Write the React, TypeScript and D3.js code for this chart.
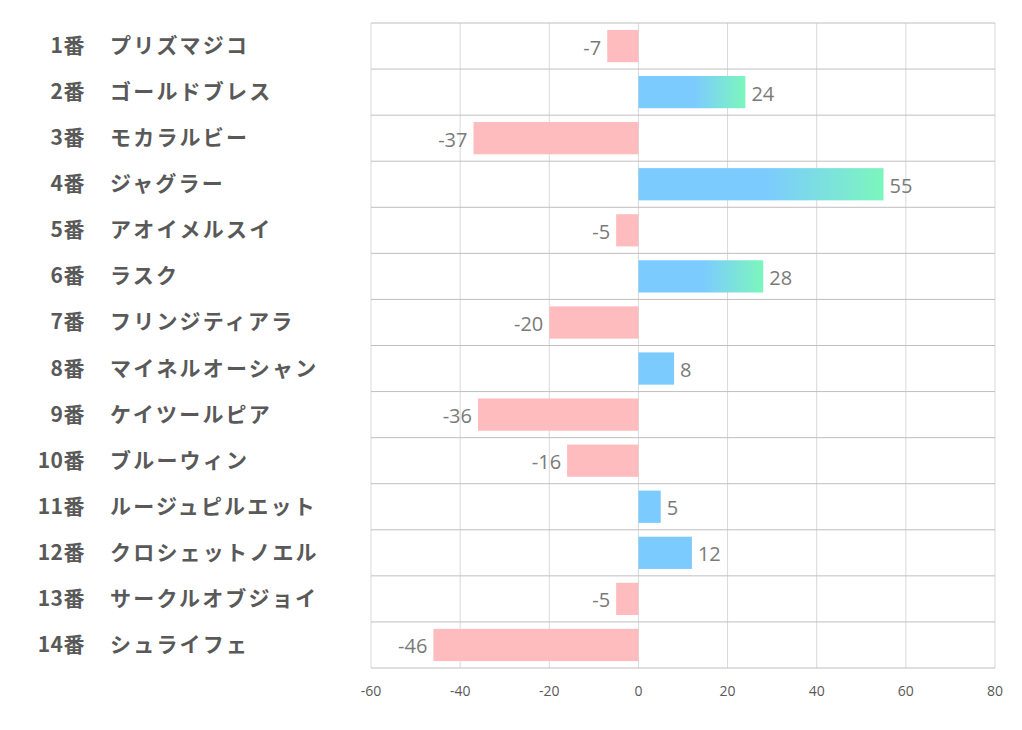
import React from "react";
import * as d3 from "d3";

const numbers = ["1番","2番","3番","4番","5番","6番","7番","8番","9番","10番","11番","12番","13番","14番"];
const names = ["プリズマジコ","ゴールドブレス","モカラルビー","ジャグラー","アオイメルスイ","ラスク","フリンジティアラ","マイネルオーシャン","ケイツールピア","ブルーウィン","ルージュピルエット","クロシェットノエル","サークルオブジョイ","シュライフェ"];
const values = [-7, 24, -37, 55, -5, 28, -20, 8, -36, -16, 5, 12, -5, -46];
const ticks = [-60, -40, -20, 0, 20, 40, 60, 80];

export default function App() {
  const W = 1022, H = 730;
  const left = 371, right = 995, top = 23, bottom = 668;
  const x = d3.scaleLinear().domain([-60, 80]).range([left, right]);
  const y = d3.scaleBand<number>().domain(d3.range(values.length)).range([top, bottom]).paddingInner(0.3).paddingOuter(0.15);
  const step = (bottom - top) / values.length;
  const x0 = x(0);
  return (
    <svg width={W} height={H} style={{ position: "absolute", left: 0, top: 0, background: "#fff" }}>
      <defs>
        <linearGradient id="grad" x1="0" x2="1" y1="0" y2="0">
          <stop offset="0" stopColor="#7ccbff" />
          <stop offset="0.52" stopColor="#7ccbff" />
          <stop offset="1" stopColor="#7cf6bd" />
        </linearGradient>
      </defs>
      {ticks.map((t) => (
        <line key={"v" + t} x1={x(t)} x2={x(t)} y1={top} y2={bottom} stroke="#d9d9d9" strokeWidth={1} />
      ))}
      {d3.range(values.length + 1).map((i) => (
        <line key={"h" + i} x1={left} x2={right} y1={top + i * step} y2={top + i * step} stroke="#bfbfbf" strokeWidth={1} />
      ))}
      {values.map((v, i) => {
        const bx = Math.min(x(v), x0);
        const bw = Math.abs(x(v) - x0);
        const fill = v < 0 ? "#ffbcbf" : v >= 20 ? "url(#grad)" : "#7ccbff";
        return <rect key={"b" + i} x={bx} y={y(i)!} width={bw} height={y.bandwidth()} fill={fill} />;
      })}
      {values.map((v, i) => (
        <text key={"l" + i} x={v < 0 ? x(v) - 6 : x(v) + 6} y={y(i)! + y.bandwidth() / 2 + 1}
          textAnchor={v < 0 ? "end" : "start"} dominantBaseline="central"
          fontFamily="'Open Sans', 'Noto Sans', sans-serif" fontSize={20} fill="#7a7a7a">{v}</text>
      ))}
      {values.map((_, i) => (
        <g key={"n" + i} fontFamily="'Noto Sans CJK JP', sans-serif" fontWeight="bold" fontSize={21} fill="#595959">
          <text x={85} y={top + step * (i + 0.5) - 2} textAnchor="end" dominantBaseline="central" letterSpacing={0.5}>{numbers[i]}</text>
          <text x={110} y={top + step * (i + 0.5) - 2} textAnchor="start" dominantBaseline="central" letterSpacing={2.2}>{names[i]}</text>
        </g>
      ))}
      {ticks.map((t) => (
        <text key={"t" + t} x={x(t)} y={690} textAnchor="middle" dominantBaseline="central"
          fontFamily="'Open Sans', 'Noto Sans', sans-serif" fontSize={14} fill="#595959">{t}</text>
      ))}
    </svg>
  );
}
